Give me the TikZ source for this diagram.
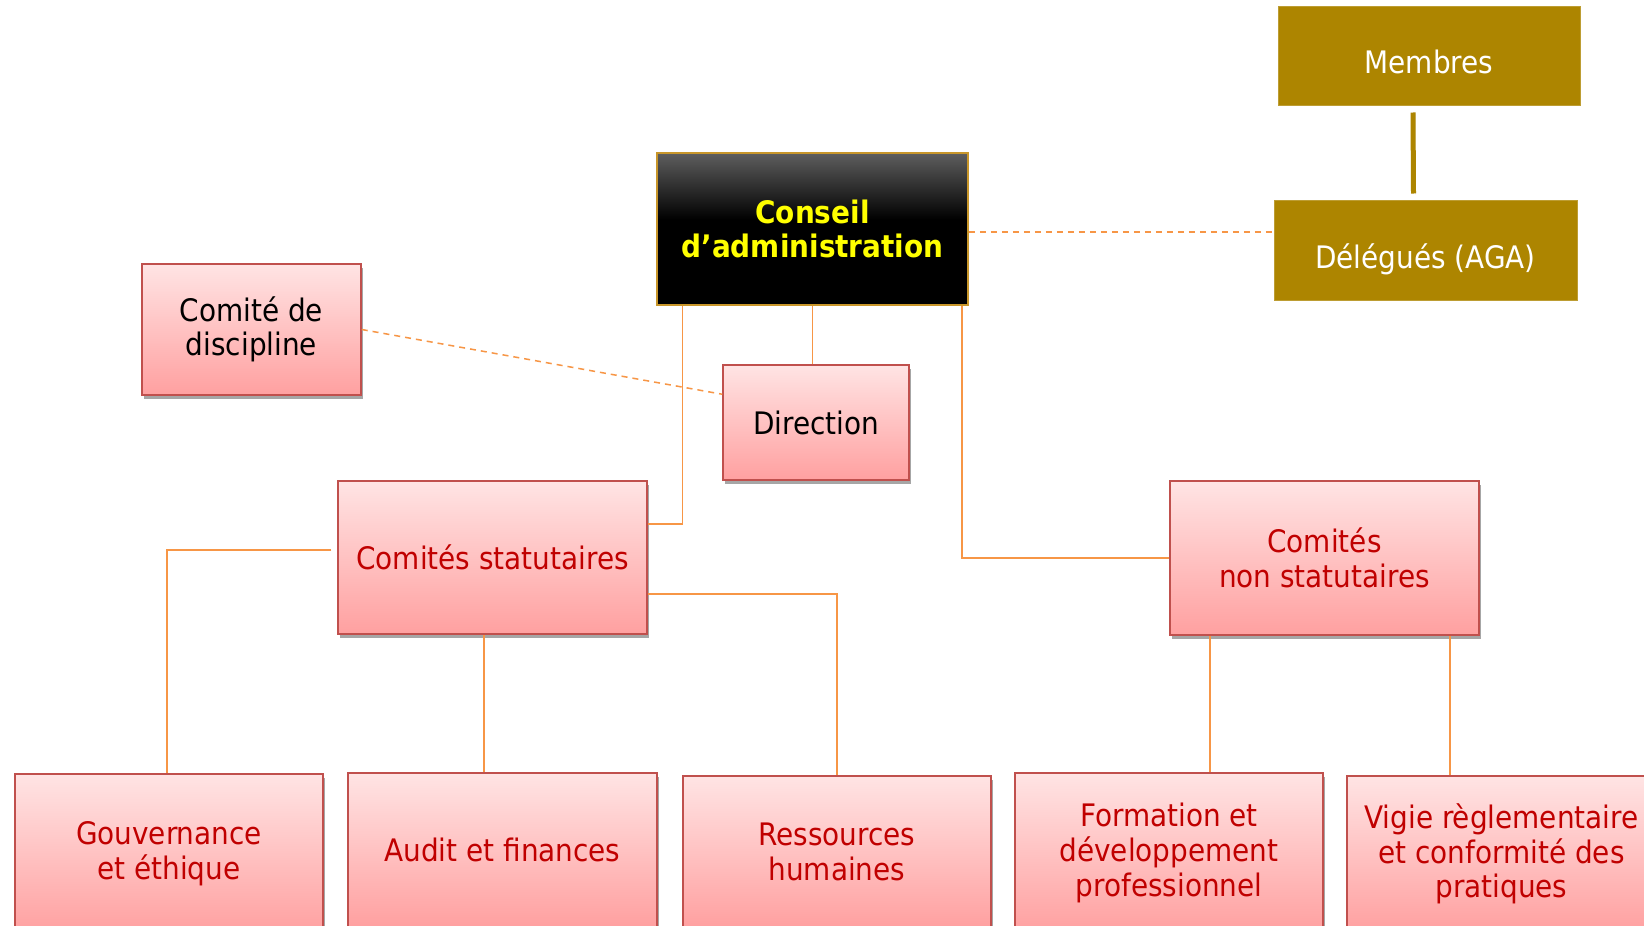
\documentclass[tikz,border=0pt]{standalone}
\usepackage{fontspec}
\setmainfont{DejaVu Sans Condensed}
\usetikzlibrary{shadows}
\definecolor{pinktop}{HTML}{FFE4E4}
\definecolor{pinkbot}{HTML}{FFA0A0}
\definecolor{pinkborder}{HTML}{C0504D}
\definecolor{redtext}{HTML}{C00000}
\definecolor{gold}{HTML}{AD8500}
\definecolor{cagold}{HTML}{C8962A}
\definecolor{orangeline}{HTML}{F79646}
\definecolor{cayellow}{HTML}{FFFF00}
\definecolor{catop}{HTML}{5E5E5E}
\pgfdeclareverticalshading{cashade}{100bp}{color(0bp)=(black); color(25bp)=(black); color(53bp)=(black); color(75bp)=(catop); color(100bp)=(catop)}
\tikzset{
  pinkbox/.style={rectangle, draw=pinkborder, line width=1.5pt, top color=pinktop, bottom color=pinkbot,
    inner sep=0pt, align=center, font=\fontsize{31}{34.6}\selectfont,
    drop shadow={shadow xshift=2pt, shadow yshift=-4pt, opacity=0.35, fill=black}},
  goldbox/.style={rectangle, fill=gold, draw=gold!80!white, line width=1pt, inner sep=0pt, align=center,
    text=white, font=\fontsize{31}{34.6}\selectfont},
  cabox/.style={rectangle, draw=cagold, line width=1.5pt, shading=cashade,
    inner sep=0pt, align=center, text=cayellow, font=\fontsize{31}{33.5}\selectfont\bfseries},
  conn/.style={draw=orangeline, line width=1.5pt},
  dashconn/.style={draw=orangeline, line width=1.5pt, dash pattern=on 6pt off 5pt},
  goldconn/.style={draw=gold, line width=5pt, line cap=butt}
}
\begin{document}
\begin{tikzpicture}[x=1pt,y=-1pt]
\useasboundingbox (0,0) rectangle (1644,926);
\fill[white] (0,0) rectangle (1644,926);
% gold boxes
\node[goldbox, minimum width=302pt, minimum height=99pt] (membres) at (1429,55.5) {\smash{\raisebox{-18pt}{Membres}}};
\node[goldbox, minimum width=303pt, minimum height=100pt] (delegues) at (1425.5,250) {\smash{\raisebox{-18pt}{Délégués (AGA)}}};
% CA
\node[cabox, minimum width=311pt, minimum height=152pt] (ca) at (812.5,229) {Conseil\\d’administration};
% pink boxes
\node[pinkbox, minimum width=219pt, minimum height=131pt] (disc) at (251.5,329.5) {Comité de\\discipline};
\node[pinkbox, minimum width=186pt, minimum height=115pt] (dir) at (816,422.5) {Direction};
\node[pinkbox, text=redtext, minimum width=309pt, minimum height=153pt] (cs) at (492.5,557.5) {Comités statutaires};
\node[pinkbox, text=redtext, minimum width=309pt, minimum height=154pt] (cns) at (1324.5,558) {Comités\\non statutaires};
\node[pinkbox, text=redtext, minimum width=308pt, minimum height=160pt] (gouv) at (169,854) {Gouvernance\\et éthique};
\node[pinkbox, text=redtext, minimum width=309pt, minimum height=154pt] (audit) at (502.5,850) {Audit et finances};
\node[pinkbox, text=redtext, minimum width=308pt, minimum height=152pt] (rh) at (837,852) {Ressources\\humaines};
\node[pinkbox, text=redtext, minimum width=308pt, minimum height=160pt] (form) at (1169,853) {Formation et\\développement\\professionnel};
\node[pinkbox, text=redtext, minimum width=309pt, minimum height=156pt] (vigie) at (1501.5,854) {Vigie règlementaire\\et conformité des\\pratiques};
% connectors
\draw[goldconn, drop shadow={shadow xshift=2pt, shadow yshift=-1pt, opacity=0.3, fill=black}] ([xshift=-16pt,yshift=-7pt]membres.south) -- ([xshift=-12pt,yshift=6pt]delegues.north);
\draw[dashconn] ([yshift=-3pt]ca.east) -- ([yshift=-3pt]ca.east -| delegues.west);
\draw[conn] (ca.south) -- (ca.south |- dir.north);
\draw[dashconn] (disc.east) -- ([yshift=-30pt]dir.north west);
\draw[conn] ([xshift=26pt]ca.south west) |- ([yshift=33.5pt]cs.east);
\draw[conn] ([xshift=-7pt]ca.south east) |- (cns.west);
\draw[conn] ([xshift=-6pt,yshift=7.5pt]cs.west) -| ([xshift=-2pt]gouv.north);
\draw[conn] ([xshift=-8.5pt]cs.south) -- ([xshift=-8.5pt]cs.south |- audit.north);
\draw[conn] ([yshift=-36.5pt]cs.east) -| (rh.north);
\draw[conn] ([xshift=-114.5pt]cns.south) -- ([xshift=-114.5pt]cns.south |- form.north);
\draw[conn] ([xshift=125.5pt]cns.south) -- ([xshift=125.5pt]cns.south |- vigie.north);
\end{tikzpicture}
\end{document}
